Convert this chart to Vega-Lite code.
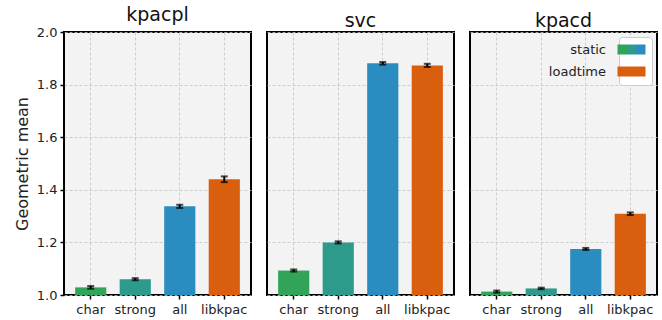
{
  "$schema": "https://vega.github.io/schema/vega-lite/v6.json",
  "padding": {"left": 13, "top": 5, "right": 3, "bottom": 2},
  "background": "white",
  "datasets": {
    "bars": [
      {"panel": "kpacpl", "bar": "char", "value": 1.029, "err": 0.005},
      {"panel": "kpacpl", "bar": "strong", "value": 1.060, "err": 0.004},
      {"panel": "kpacpl", "bar": "all", "value": 1.337, "err": 0.006},
      {"panel": "kpacpl", "bar": "libkpac", "value": 1.440, "err": 0.011},
      {"panel": "svc", "bar": "char", "value": 1.093, "err": 0.004},
      {"panel": "svc", "bar": "strong", "value": 1.200, "err": 0.004},
      {"panel": "svc", "bar": "all", "value": 1.881, "err": 0.005},
      {"panel": "svc", "bar": "libkpac", "value": 1.873, "err": 0.006},
      {"panel": "kpacd", "bar": "char", "value": 1.013, "err": 0.004},
      {"panel": "kpacd", "bar": "strong", "value": 1.025, "err": 0.003},
      {"panel": "kpacd", "bar": "all", "value": 1.175, "err": 0.004},
      {"panel": "kpacd", "bar": "libkpac", "value": 1.309, "err": 0.005}
    ],
    "legend": [
      {"kind": "static"},
      {"kind": "loadtime"}
    ]
  },
  "config": {
    "font": "DejaVu Sans",
    "view": {"stroke": "black", "strokeWidth": 2, "fill": "#f3f3f3"},
    "axis": {
      "domain": false,
      "grid": true,
      "gridColor": "#c4c4c4",
      "gridDash": [3, 2],
      "gridWidth": 0.8,
      "tickColor": "black",
      "tickWidth": 1.5,
      "tickSize": 4,
      "labelFont": "DejaVu Sans",
      "labelFontSize": 13,
      "labelColor": "#222",
      "titleFont": "DejaVu Sans",
      "titleFontWeight": "normal",
      "titleFontSize": 16,
      "titleColor": "#222"
    },
    "title": {"font": "DejaVu Sans", "fontSize": 19, "fontWeight": "normal", "offset": 1, "color": "#111"},
    "concat": {"spacing": 14}
  },
  "hconcat": [
    {
      "width": 187, "height": 263,
      "title": "kpacpl",
      "data": {"name": "bars"},
      "transform": [{"filter": "datum.panel === 'kpacpl'"}],
      "layer": [
        {
          "mark": {"type": "bar"},
          "encoding": {
            "x": {"field": "bar", "type": "nominal", "sort": ["char", "strong", "all", "libkpac"],
                  "scale": {"paddingInner": 0.3, "paddingOuter": 0.25},
                  "axis": {"title": null, "labelAngle": 0, "bandPosition": 0.5, "labelPadding": 4}},
            "y": {"field": "value", "type": "quantitative", "title": "Geometric mean",
                  "scale": {"domain": [1, 2], "nice": false, "zero": false},
                  "axis": {"title": "Geometric mean", "values": [1, 1.2, 1.4, 1.6, 1.8, 2], "format": ".1f", "titlePadding": 6, "labelPadding": 3}},
            "y2": {"datum": 1},
            "color": {"field": "bar", "type": "nominal", "legend": null,
                      "scale": {"domain": ["char", "strong", "all", "libkpac"], "range": ["#32a45a", "#2e9a8c", "#2b8cbf", "#d95f0e"]}}
          }
        },
        {
          "mark": {"type": "errorbar", "ticks": {"size": 7, "thickness": 2, "color": "black"}, "thickness": 2, "color": "black"},
          "encoding": {
            "x": {"field": "bar", "type": "nominal", "sort": ["char", "strong", "all", "libkpac"]},
            "y": {"field": "value", "type": "quantitative", "title": "Geometric mean"},
            "yError": {"field": "err"}
          }
        }
      ]
    },
    {
      "width": 187, "height": 263,
      "title": "svc",
      "data": {"name": "bars"},
      "transform": [{"filter": "datum.panel === 'svc'"}],
      "layer": [
        {
          "mark": {"type": "bar"},
          "encoding": {
            "x": {"field": "bar", "type": "nominal", "sort": ["char", "strong", "all", "libkpac"],
                  "scale": {"paddingInner": 0.3, "paddingOuter": 0.25},
                  "axis": {"title": null, "labelAngle": 0, "bandPosition": 0.5, "labelPadding": 4}},
            "y": {"field": "value", "type": "quantitative",
                  "scale": {"domain": [1, 2], "nice": false, "zero": false},
                  "axis": {"title": null, "values": [1, 1.2, 1.4, 1.6, 1.8, 2], "labels": false, "ticks": false}},
            "y2": {"datum": 1},
            "color": {"field": "bar", "type": "nominal", "legend": null,
                      "scale": {"domain": ["char", "strong", "all", "libkpac"], "range": ["#32a45a", "#2e9a8c", "#2b8cbf", "#d95f0e"]}}
          }
        },
        {
          "mark": {"type": "errorbar", "ticks": {"size": 7, "thickness": 2, "color": "black"}, "thickness": 2, "color": "black"},
          "encoding": {
            "x": {"field": "bar", "type": "nominal", "sort": ["char", "strong", "all", "libkpac"]},
            "y": {"field": "value", "type": "quantitative"},
            "yError": {"field": "err"}
          }
        }
      ]
    },
    {
      "width": 187, "height": 263,
      "title": "kpacd",
      "view": {"stroke": "black", "strokeWidth": 2, "fill": "#f3f3f3"},
      "resolve": {"scale": {"fill": "independent"}},
      "layer": [
        {
          "data": {"name": "bars"},
          "transform": [{"filter": "datum.panel === 'kpacd'"}],
          "mark": {"type": "bar"},
          "encoding": {
            "x": {"field": "bar", "type": "nominal", "sort": ["char", "strong", "all", "libkpac"],
                  "scale": {"paddingInner": 0.3, "paddingOuter": 0.25},
                  "axis": {"title": null, "labelAngle": 0, "bandPosition": 0.5, "labelPadding": 4}},
            "y": {"field": "value", "type": "quantitative",
                  "scale": {"domain": [1, 2], "nice": false, "zero": false},
                  "axis": {"title": null, "values": [1, 1.2, 1.4, 1.6, 1.8, 2], "labels": false, "ticks": false}},
            "y2": {"datum": 1},
            "color": {"field": "bar", "type": "nominal", "legend": null,
                      "scale": {"domain": ["char", "strong", "all", "libkpac"], "range": ["#32a45a", "#2e9a8c", "#2b8cbf", "#d95f0e"]}}
          }
        },
        {
          "data": {"name": "bars"},
          "transform": [{"filter": "datum.panel === 'kpacd'"}],
          "mark": {"type": "errorbar", "ticks": {"size": 7, "thickness": 2, "color": "black"}, "thickness": 2, "color": "black"},
          "encoding": {
            "x": {"field": "bar", "type": "nominal", "sort": ["char", "strong", "all", "libkpac"]},
            "y": {"field": "value", "type": "quantitative"},
            "yError": {"field": "err"}
          }
        },
        {
          "data": {"name": "legend"},
          "mark": {"type": "point", "shape": "square", "filled": true, "opacity": 0},
          "encoding": {
            "fill": {"field": "kind", "type": "nominal",
                     "scale": {"domain": ["static", "loadtime"],
                               "range": [
                                 {"expr": "{gradient: 'linear', x1: 0, y1: 0, x2: 1, y2: 0, stops: [{offset: 0, color: '#32a45a'}, {offset: 0.333, color: '#32a45a'}, {offset: 0.334, color: '#2e9a8c'}, {offset: 0.666, color: '#2e9a8c'}, {offset: 0.667, color: '#2b8cbf'}, {offset: 1, color: '#2b8cbf'}]}"},
                                 "#d95f0e"]},
                     "legend": {
                       "title": null,
                       "orient": "top-right",
                       "offset": 5,
                       "symbolType": "M-2.8,-1H2.8V1H-2.8Z",
                       "symbolSize": 100,
                       "symbolOpacity": 1,
                       "symbolStrokeWidth": 0,
                       "labelFontSize": 13,
                       "labelFont": "DejaVu Sans",
                       "labelColor": "#222",
                       "labelAlign": "right",
                       "labelOffset": -32,
                       "rowPadding": 8,
                       "fillColor": "white",
                       "strokeColor": "#cccccc",
                       "cornerRadius": 3,
                       "padding": 6
                     }}
          }
        }
      ]
    }
  ]
}
